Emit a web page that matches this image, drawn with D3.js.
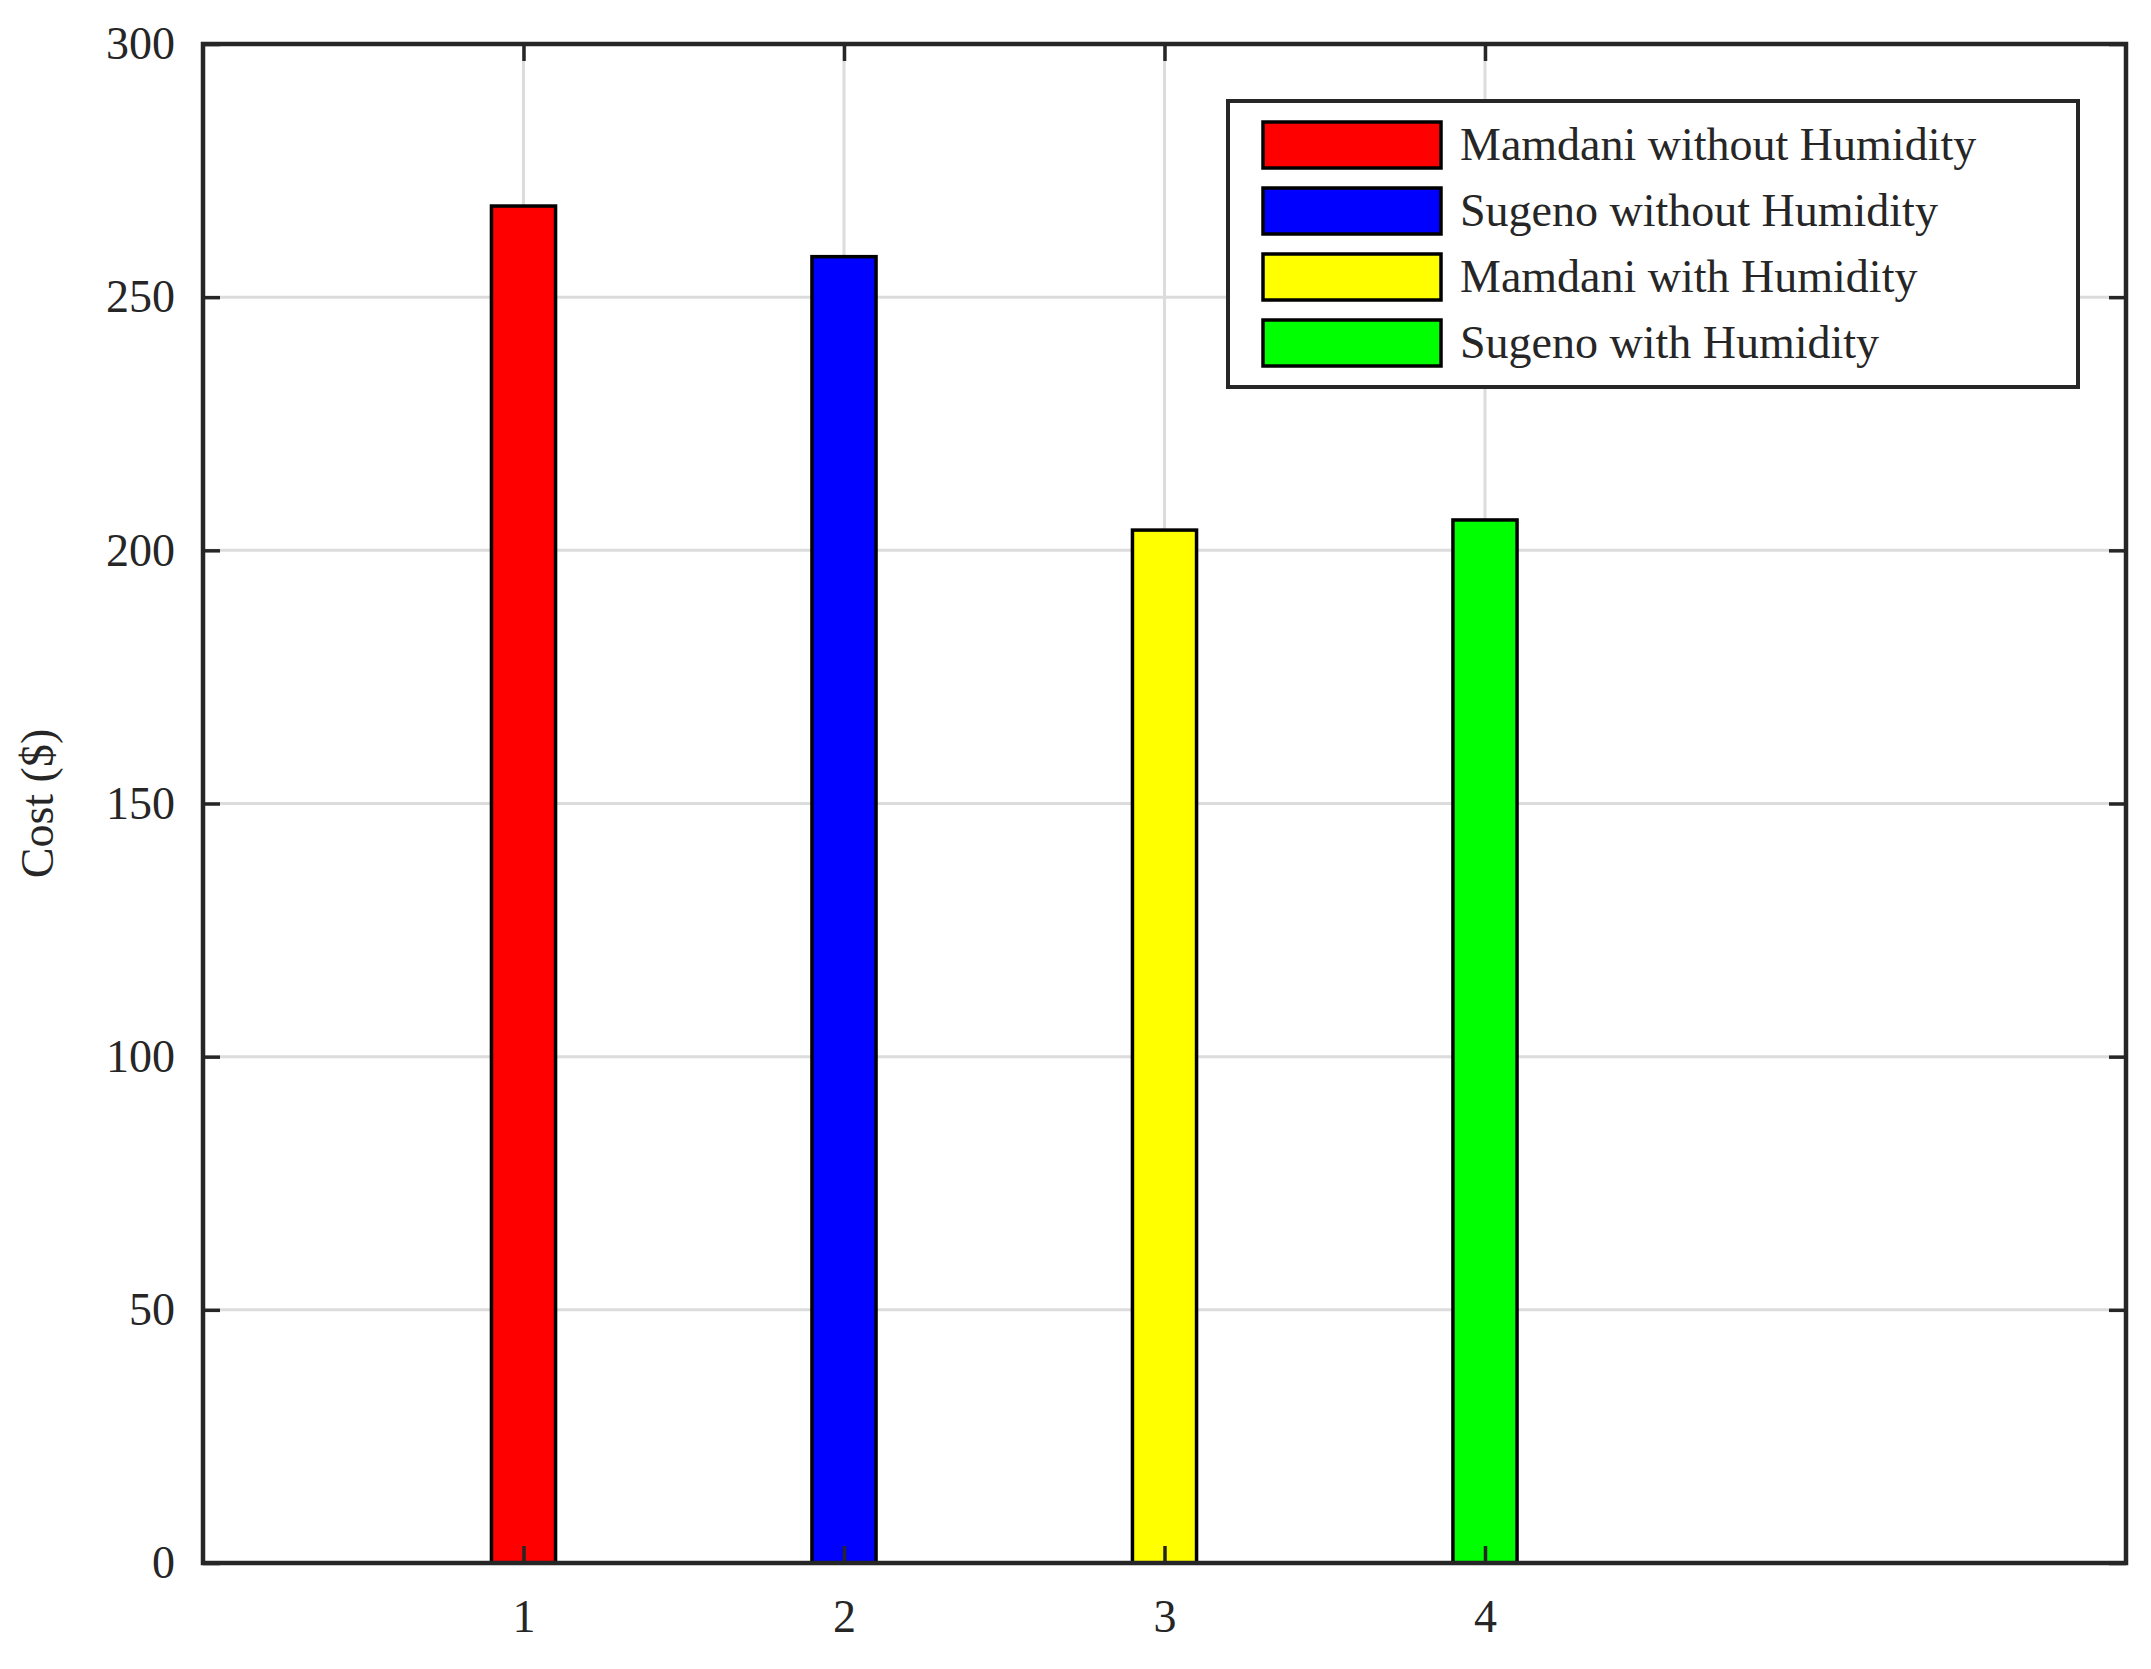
<!DOCTYPE html>
<html>
<head>
<meta charset="utf-8">
<script src="https://cdn.jsdelivr.net/npm/d3@7"></script>
<style>
  body { margin: 0; background: #fff; }
  text { font-family: "Liberation Serif", "DejaVu Serif", serif; fill: #262626; }
</style>
</head>
<body>
<div id="chart"></div>
<script>
// Data
var categories = [1, 2, 3, 4];
var series = ["Mamdani without Humidity", "Sugeno without Humidity", "Mamdani with Humidity", "Sugeno with Humidity"];
var costs = [268, 258, 204, 206];
var colors = ["#ff0000", "#0000ff", "#ffff00", "#00ff00"];
var yTicks = [0, 50, 100, 150, 200, 250, 300];

var svgWidth = 2151, svgHeight = 1669;
var margin = { top: 44, right: 25, bottom: 106, left: 203 };
var w = svgWidth - margin.left - margin.right;
var h = svgHeight - margin.top - margin.bottom;

var svg = d3.select("#chart").append("svg")
    .attr("width", svgWidth).attr("height", svgHeight);
var g = svg.append("g").attr("transform", `translate(${margin.left},${margin.top})`);

var x = d3.scaleLinear().domain([0, 6]).range([0, w]);
var y = d3.scaleLinear().domain([0, 300]).range([h, 0]);

// grid
g.append("g").selectAll("line").data(yTicks).enter().append("line")
    .attr("x1", 0).attr("x2", w)
    .attr("y1", d => y(d)).attr("y2", d => y(d))
    .attr("stroke", "#dcdcdc").attr("stroke-width", 3);
g.append("g").selectAll("line").data(categories).enter().append("line")
    .attr("y1", 0).attr("y2", h)
    .attr("x1", d => x(d)).attr("x2", d => x(d))
    .attr("stroke", "#dcdcdc").attr("stroke-width", 3);

// bars
var bw = x(0.2) - x(0);
g.selectAll("rect.bar").data(costs).enter().append("rect")
    .attr("class", "bar")
    .attr("x", (d, i) => x(categories[i]) - bw / 2)
    .attr("y", d => y(d))
    .attr("width", bw)
    .attr("height", d => h - y(d))
    .attr("fill", (d, i) => colors[i])
    .attr("stroke", "#000").attr("stroke-width", 3.5);

// axes with inward ticks
function styleAxis(sel) {
    sel.select(".domain").remove();
    sel.selectAll(".tick line").attr("stroke", "#262626").attr("stroke-width", 3.5);
    sel.selectAll("text").style("font-size", "46px").attr("fill", "#262626")
        .style("font-family", '"Liberation Serif", serif');
}
g.append("g").attr("transform", `translate(0,${h})`)
    .call(d3.axisBottom(x).tickValues(categories).tickFormat(d3.format("d")).tickSizeInner(-17).tickPadding(36))
    .call(styleAxis);
g.append("g")
    .call(d3.axisTop(x).tickValues(categories).tickFormat("").tickSizeInner(-17))
    .call(styleAxis);
g.append("g")
    .call(d3.axisLeft(y).tickValues(yTicks).tickSizeInner(-17).tickPadding(28))
    .call(styleAxis);
g.append("g").attr("transform", `translate(${w},0)`)
    .call(d3.axisRight(y).tickValues(yTicks).tickFormat("").tickSizeInner(-17))
    .call(styleAxis);

// frame
g.append("rect").attr("width", w).attr("height", h)
    .attr("fill", "none").attr("stroke", "#262626").attr("stroke-width", 4.5);

// y label
g.append("text")
    .attr("transform", `translate(${-150},${h / 2}) rotate(-90)`)
    .attr("text-anchor", "middle")
    .style("font-size", "46px")
    .text("Cost ($)");

// legend
var lg = svg.append("g").attr("transform", "translate(1228,101)");
lg.append("rect").attr("width", 850).attr("height", 286)
    .attr("fill", "#fff").attr("stroke", "#262626").attr("stroke-width", 4);
var items = lg.selectAll("g.item").data(series).enter().append("g")
    .attr("transform", (d, i) => `translate(35,${44 + i * 66})`);
items.append("rect").attr("x", 0).attr("y", -23).attr("width", 178).attr("height", 46)
    .attr("fill", (d, i) => colors[i]).attr("stroke", "#000").attr("stroke-width", 3.5);
items.append("text").attr("x", 197).attr("y", 15)
    .style("font-size", "46px").text(d => d);
</script>
</body>
</html>
